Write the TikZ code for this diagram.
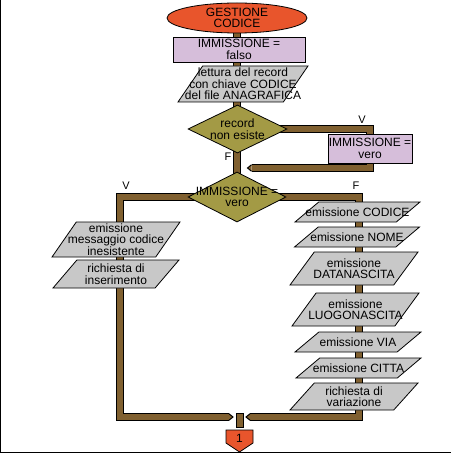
\documentclass[tikz,border=0pt]{standalone}
\usepackage{fontspec}
\setmainfont{Liberation Sans}
\usetikzlibrary{shapes.geometric,calc}
\pgfdeclarelayer{bg}
\pgfsetlayers{bg,main}
\definecolor{ovalred}{HTML}{E8552C}
\definecolor{lilac}{HTML}{D6BEDA}
\definecolor{paragray}{HTML}{C8C8C8}
\definecolor{olive}{HTML}{A39A45}
\definecolor{pipebrown}{HTML}{806030}
\newcommand{\emptybox}{\phantom{\rule{2pt}{2pt}}}
\begin{document}
\begin{tikzpicture}[x=1pt,y=-1pt,
  every node/.style={font=\fontsize{12}{11.5}\selectfont, align=center, inner sep=0pt, line width=0.8pt},
  oval/.style={ellipse, draw, fill=ovalred, minimum width=140, minimum height=30},
  assign/.style={rectangle, draw, fill=lilac},
  para/.style={trapezium, trapezium left angle=73, trapezium right angle=107, trapezium stretches=true, draw, fill=paragray},
  decision/.style={diamond, draw, fill=olive},
  flag/.style={font=\fontsize{11}{11}\selectfont},
  pipe/.style={line width=5.5pt, draw=pipebrown, line join=miter, preaction={draw=black, line width=7.5pt, line join=miter}},
  pics/tip/.style={code={
    \fill[pipebrown] (0.2,-3.4) -- (-4,0) -- (0.2,3.4) -- cycle;
    \draw[line width=1pt, line join=miter] (0,-3.25) -- (-4,0) -- (0,3.25);}}
]
\useasboundingbox (0,0) rectangle (451,454);
\draw[line width=1.3pt] (0.65,0) -- (0.65,452.7) -- (451,452.7);

% nodes
\node[oval, label={[align=center]center:GESTIONE\\CODICE}] (start) at (237,18) {\emptybox};
\node[assign, minimum width=132, minimum height=25] (falso) at (239,49.5) {IMMISSIONE =\\falso};
\node[para, minimum width=130, minimum height=36, label={[align=center]center:lettura del record\\con chiave CODICE\\del file ANAGRAFICA}] (lettura) at (243,84) {\emptybox};
\node[decision, minimum width=99, minimum height=48, label={[align=center]center:record\\non esiste}] (d1) at (237.5,129) {\emptybox};
\node[assign, minimum width=84, minimum height=29] (vero) at (370,148.5) {IMMISSIONE =\\vero};
\node[decision, minimum width=98, minimum height=50, label={[align=center]center:IMMISSIONE =\\vero}] (d2) at (237,197) {\emptybox};

\node[para, minimum width=128, minimum height=35, label={[align=center]center:emissione\\messaggio codice\\inesistente}] (msg) at (116,239.5) {\emptybox};
\node[para, minimum width=126, minimum height=28, label={[align=center]center:richiesta di\\inserimento}] (ins) at (116,274) {\emptybox};

\node[para, minimum width=125, minimum height=20, label={center:emissione CODICE}] (ecod) at (357.5,212) {\emptybox};
\node[para, minimum width=125, minimum height=20, label={center:emissione NOME}] (enome) at (357,237) {\emptybox};
\node[para, minimum width=128, minimum height=33, label={[align=center]center:emissione\\DATANASCITA}] (edata) at (354,268.5) {\emptybox};
\node[para, minimum width=127, minimum height=33, label={[align=center]center:emissione\\LUOGONASCITA}] (eluogo) at (355.5,309.5) {\emptybox};
\node[para, minimum width=126, minimum height=20, label={center:emissione VIA}] (evia) at (358,342) {\emptybox};
\node[para, minimum width=125, minimum height=20, label={center:emissione CITTA}] (ecitta) at (358.5,368) {\emptybox};
\node[para, minimum width=128, minimum height=27, label={[align=center]center:richiesta di\\variazione}] (evar) at (354,396.5) {\emptybox};

\node[rectangle, draw, fill=pipebrown, minimum width=7.5, minimum height=14] (stub) at (240,420.5) {};
\node (off) at (239.5,438) {1};

\node[flag] (lv1) at (362,120) {V};
\node[flag] (lf1) at (228,157) {F};
\node[flag] (lv2) at (126,186) {V};
\node[flag] (lf2) at (356,186) {F};

\coordinate (retEnd) at (251.5,168);
\coordinate (lc) at (120,417);
\coordinate (lEnd) at (229,417);
\coordinate (rc) at (359,417);
\coordinate (rEnd) at (250,417);

% off-page connector
\begin{pgfonlayer}{bg}
\filldraw[fill=ovalred, draw=black, line width=0.8pt]
  ($(off)+(-13.5,-8)$) -- ($(off)+(13.5,-8)$) -- ($(off)+(13.5,5)$) -- ($(off)+(0,14)$) -- ($(off)+(-13.5,5)$) -- cycle;
\draw[pipe] (start.center) -- (d2.center);
\draw[pipe] (d1.center) -| (vero.center);
\draw[pipe] (vero.center) |- (retEnd);
\pic at (retEnd) {tip};
\draw[pipe] (d2.center) -| (lc) -- (lEnd);
\pic[rotate=180] at (lEnd) {tip};
\draw[pipe] (d2.center) -| (rc) -- (rEnd);
\pic at (rEnd) {tip};
\end{pgfonlayer}
\end{tikzpicture}
\end{document}
